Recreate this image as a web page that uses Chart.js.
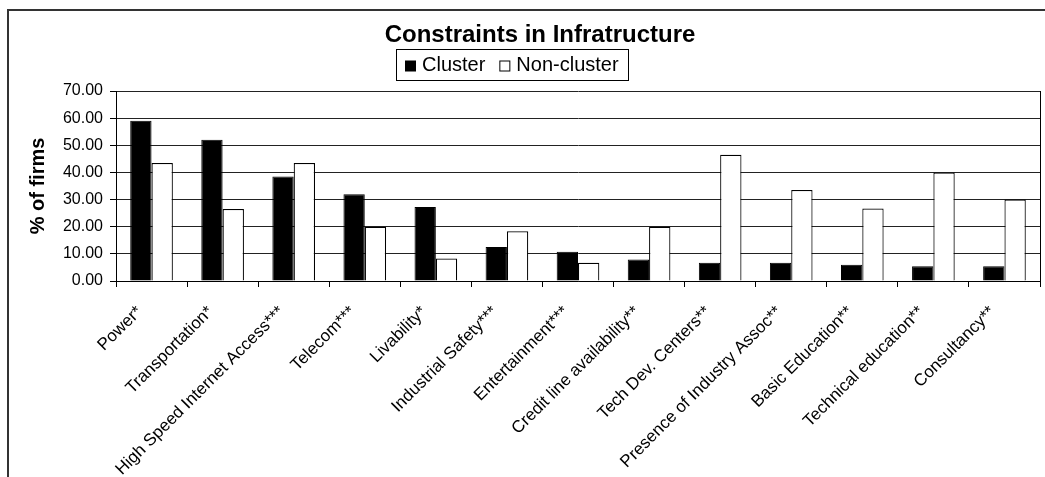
<!DOCTYPE html>
<html>
<head>
<meta charset="utf-8">
<title>Constraints in Infratructure</title>
<script src="https://cdn.jsdelivr.net/npm/chart.js@4.4.1/dist/chart.umd.min.js"></script>
<style>
  html, body { margin: 0; padding: 0; background: #fff; overflow: hidden; }
  #wrap { position: relative; width: 1045px; height: 477px; }
</style>
</head>
<body>
<div id="wrap"><canvas id="infraChart" width="1045" height="477"></canvas></div>
<script>
// Constraints in Infratructure — cluster vs non-cluster firms

const categories = [
  'Power*', 'Transportation*', 'High Speed Internet Access***', 'Telecom***',
  'Livability*', 'Industrial Safety***', 'Entertainment***', 'Credit line availability**',
  'Tech Dev. Centers**', 'Presence of Industry Assoc**', 'Basic Education**',
  'Technical education**', 'Consultancy**'
];
const clusterPct    = [59.0, 52.0, 38.5, 32.0, 27.3, 12.5, 10.8, 7.9, 6.7, 6.7, 6.0, 5.4, 5.4];
const nonClusterPct = [43.5, 26.5, 43.5, 20.0, 8.3, 18.3, 6.7, 20.0, 46.5, 33.5, 26.7, 40.0, 30.0];
const yTicks = [0, 10, 20, 30, 40, 50, 60, 70];

const FONT = '"Liberation Sans", Arial, Helvetica, sans-serif';
const TITLE = 'Constraints in Infratructure';

// frame, title and boxed legend drawn the way the spreadsheet had them
const decorPlugin = {
  id: 'decor',
  afterDraw(chart) {
    const { ctx, chartArea } = chart;
    ctx.save();

    // outer chart frame (runs off the right/bottom edge)
    ctx.strokeStyle = '#333';
    ctx.lineWidth = 2;
    ctx.beginPath();
    ctx.moveTo(8, 480);
    ctx.lineTo(8, 10);
    ctx.lineTo(1050, 10);
    ctx.stroke();

    // plot area right edge
    ctx.strokeStyle = '#000';
    ctx.lineWidth = 1;
    ctx.beginPath();
    ctx.moveTo(Math.round(chartArea.right) + 0.5, chartArea.top);
    ctx.lineTo(Math.round(chartArea.right) + 0.5, chartArea.bottom);
    ctx.stroke();

    // title
    ctx.fillStyle = '#000';
    ctx.font = 'bold 24px ' + FONT;
    ctx.textAlign = 'center';
    ctx.textBaseline = 'alphabetic';
    ctx.fillText(TITLE, 540, 42);

    // legend
    ctx.font = '20px ' + FONT;
    ctx.textAlign = 'left';
    ctx.textBaseline = 'middle';
    const items = chart.data.datasets.map(ds => ({ label: ds.label, fill: ds.backgroundColor }));
    const box = 10, gap = 7, sep = 14, pad = 9;
    let total = 0;
    items.forEach((it, i) => {
      total += box + gap + ctx.measureText(it.label).width + (i < items.length - 1 ? sep : 0);
    });
    const bw = Math.round(total + pad * 2), bh = 31;
    const bx = Math.round(512 - bw / 2), by = 49;
    ctx.strokeStyle = '#000';
    ctx.lineWidth = 1;
    ctx.strokeRect(bx + 0.5, by + 0.5, bw, bh);
    let x = bx + pad;
    const cy = by + bh / 2 + 1;
    items.forEach(it => {
      ctx.fillStyle = it.fill;
      ctx.fillRect(x + 0.5, cy - box / 2 + 0.5, box, box);
      ctx.strokeRect(x + 0.5, cy - box / 2 + 0.5, box, box);
      x += box + gap;
      ctx.fillStyle = '#000';
      ctx.fillText(it.label, x, cy);
      x += ctx.measureText(it.label).width + sep;
    });

    ctx.restore();
  }
};

new Chart(document.getElementById('infraChart'), {
  type: 'bar',
  data: {
    labels: categories,
    datasets: [
      { label: 'Cluster', data: clusterPct, backgroundColor: '#000', borderColor: '#000', borderWidth: 1 },
      { label: 'Non-cluster', data: nonClusterPct, backgroundColor: '#fff', borderColor: '#000', borderWidth: 1.2 }
    ]
  },
  options: {
    responsive: false,
    animation: false,
    devicePixelRatio: 1,
    layout: { padding: { left: 20, top: 91, right: 5, bottom: 0 } },
    datasets: { bar: { categoryPercentage: 0.6, barPercentage: 1.0 } },
    plugins: {
      legend: { display: false },
      title: { display: false },
      tooltip: { enabled: false }
    },
    scales: {
      x: {
        grid: { display: true, drawOnChartArea: false, drawTicks: true, tickLength: 6, color: '#000', offset: true },
        border: { display: true, color: '#000', width: 1 },
        ticks: {
          autoSkip: false, maxRotation: 45, minRotation: 45, padding: 15, labelOffset: -12,
          color: '#000', font: { family: FONT, size: 17 }
        },
        afterFit(scale) { scale.height = 196; }
      },
      y: {
        min: 0, max: 70,
        afterBuildTicks(scale) { scale.ticks = yTicks.map(v => ({ value: v })); },
        grid: { color: '#222', lineWidth: 1, drawTicks: true, tickLength: 6, tickColor: '#000' },
        border: { display: true, color: '#000', width: 1 },
        ticks: {
          padding: 7, color: '#000', font: { family: FONT, size: 16 },
          callback: v => Number(v).toFixed(2)
        },
        title: {
          display: true, text: '% of firms', color: '#000',
          font: { family: FONT, size: 20, weight: 'bold' },
          padding: { top: 6, bottom: 0 }
        },
        afterFit(scale) { scale.width = 96; }
      }
    }
  },
  plugins: [decorPlugin]
});
</script>
</body>
</html>
